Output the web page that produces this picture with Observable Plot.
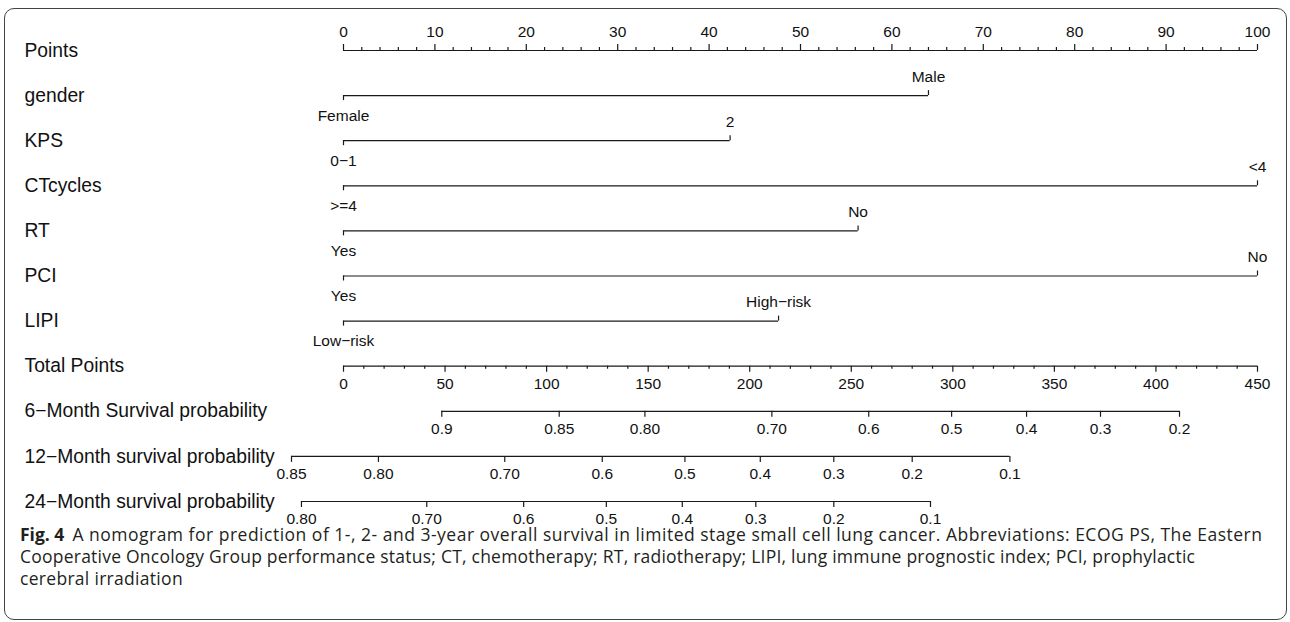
<!DOCTYPE html>
<html>
<head>
<meta charset="utf-8">
<script src="https://cdn.jsdelivr.net/npm/d3@7"></script>
<script src="https://cdn.jsdelivr.net/npm/@observablehq/plot@0.6"></script>
<style>
  html, body { margin: 0; padding: 0; background: #fff; }
  #frame { position: absolute; left: 4px; top: 8px; width: 1283px; height: 612px; border: 1px solid #444; border-radius: 10px; box-sizing: border-box; }
  #chart { position: absolute; left: 0; top: 0; }
  #caption { position: absolute; left: 20px; top: 526px; font-family: "Open Sans", Lato, sans-serif; font-size: 17.5px; line-height: 16px; color: #231f20; white-space: nowrap; }
  #caption div { height: 16px; margin-bottom: 6px; }
  #caption .l1 { letter-spacing: 0.5px; }
  #caption .l2 { letter-spacing: 0.23px; }
  #caption .l3 { letter-spacing: 0.3px; }
  #caption b { font-weight: 700; margin-right: 8px; letter-spacing: 0; }
</style>
</head>
<body>
<div id="frame"></div>
<div id="chart"></div>
<div id="caption">
  <div class="l1"><b>Fig. 4</b>A nomogram for prediction of 1-, 2- and 3-year overall survival in limited stage small cell lung cancer. Abbreviations: ECOG PS, The Eastern</div>
  <div class="l2">Cooperative Oncology Group performance status; CT, chemotherapy; RT, radiotherapy; LIPI, lung immune prognostic index; PCI, prophylactic</div>
  <div class="l3">cerebral irradiation</div>
</div>
<script>
// ---- data ----
const rowLabels = ["Points", "gender", "KPS", "CTcycles", "RT", "PCI", "LIPI", "Total Points",
  "6\u2212Month Survival probability", "12\u2212Month survival probability", "24\u2212Month survival probability"];

const pointsMajor = [0, 10, 20, 30, 40, 50, 60, 70, 80, 90, 100];
const totalMajor = [0, 50, 100, 150, 200, 250, 300, 350, 400, 450];

const variables = ["gender", "KPS", "CTcycles", "RT", "PCI", "LIPI"];
const lowLevels = ["Female", "0\u22121", ">=4", "Yes", "Yes", "Low\u2212risk"];
const highLevels = ["Male", "2", "<4", "No", "No", "High\u2212risk"];
const highPoints = [64, 42.3, 100, 56.3, 100, 47.6];

const surv6Labels = ["0.9", "0.85", "0.80", "0.70", "0.6", "0.5", "0.4", "0.3", "0.2"];
const surv6Total = [48.4, 106.2, 148.4, 210.9, 258.6, 299.4, 336.3, 372.7, 411.6];
const surv12Labels = ["0.85", "0.80", "0.70", "0.6", "0.5", "0.4", "0.3", "0.2", "0.1"];
const surv12Total = [-25.6, 17.2, 79.4, 127.4, 168.1, 205.2, 241.4, 280.0, 328.1];
const surv24Labels = ["0.80", "0.70", "0.6", "0.5", "0.4", "0.3", "0.2", "0.1"];
const surv24Total = [-20.7, 41.0, 88.7, 129.4, 166.8, 203.0, 241.4, 289.0];

// ---- derived tables ----
const totalMax = 450; // total points axis max maps onto 100 points
const toPts = t => t * 100 / totalMax;

const rows = rowLabels.map((label, i) => ({label, row: i}));
const pointsMinor = d3.range(0, 101, 2).filter(v => v % 10 !== 0);
const totalMinor = d3.range(0, 451, 10).filter(v => v % 50 !== 0);

const factors = variables.map((v, i) => ({row: i + 1, low: lowLevels[i], high: highLevels[i], hp: highPoints[i]}));

const survRows = [
  {row: 8, labels: surv6Labels, totals: surv6Total},
  {row: 9, labels: surv12Labels, totals: surv12Total},
  {row: 10, labels: surv24Labels, totals: surv24Total}
];
const survTicks = survRows.flatMap(s => s.labels.map((l, j) => ({row: s.row, label: l, x: toPts(s.totals[j])})));
const survLines = survRows.map(s => ({row: s.row, x1: toPts(d3.min(s.totals)), x2: toPts(d3.max(s.totals))}));

const stroke = "#1a1a1a";
const sw = 1.2;

const chart = Plot.plot({
  width: 1290,
  height: 526,
  marginLeft: 343,
  marginRight: 33,
  marginTop: 50,
  marginBottom: 25,
  x: {domain: [0, 100], axis: null},
  y: {domain: [0, 10], reverse: true, axis: null},
  style: {fontFamily: "'Liberation Sans', Arial, sans-serif", fontSize: "15.5px", color: "#111", background: "transparent"},
  marks: [
    // row labels
    Plot.text(rows, {y: "row", text: "label", frameAnchor: "left", dx: -319, textAnchor: "start", fontSize: 19.3, fill: "#111"}),
    // Points axis
    Plot.ruleY([0], {x1: 0, x2: 100, stroke, strokeWidth: sw}),
    Plot.ruleX(pointsMajor, {x: d => d, y1: 0, y2: 0, insetBottom: 6, stroke, strokeWidth: sw}),
    Plot.ruleX(pointsMinor, {x: d => d, y1: 0, y2: 0, insetBottom: 3, stroke, strokeWidth: sw}),
    Plot.text(pointsMajor, {x: d => d, y: 0, text: d => String(d), dy: -18, fill: "#111"}),
    // factor rows
    Plot.ruleY(factors, {y: "row", x1: 0, x2: "hp", stroke, strokeWidth: sw}),
    Plot.ruleX(factors, {x: 0, y1: "row", y2: "row", insetTop: 5, stroke, strokeWidth: sw}),
    Plot.ruleX(factors, {x: "hp", y1: "row", y2: "row", insetBottom: 5, stroke, strokeWidth: sw}),
    Plot.text(factors, {x: 0, y: "row", text: "low", dy: 20, fill: "#111"}),
    Plot.text(factors, {x: "hp", y: "row", text: "high", dy: -19, fill: "#111"}),
    // Total points axis
    Plot.ruleY([7], {x1: 0, x2: 100, stroke, strokeWidth: sw}),
    Plot.ruleX(totalMajor, {x: d => toPts(d), y1: 7, y2: 7, insetTop: 6, stroke, strokeWidth: sw}),
    Plot.ruleX(totalMinor, {x: d => toPts(d), y1: 7, y2: 7, insetTop: 3, stroke, strokeWidth: sw}),
    Plot.text(totalMajor, {x: d => toPts(d), y: 7, text: d => String(d), dy: 18, fill: "#111"}),
    // survival axes
    Plot.ruleY(survLines, {y: "row", x1: "x1", x2: "x2", stroke, strokeWidth: sw}),
    Plot.ruleX(survTicks, {x: "x", y1: "row", y2: "row", insetTop: 6, stroke, strokeWidth: sw}),
    Plot.text(survTicks, {x: "x", y: "row", text: "label", dy: 18, fill: "#111"})
  ]
});
document.getElementById("chart").append(chart);
</script>
</body>
</html>
